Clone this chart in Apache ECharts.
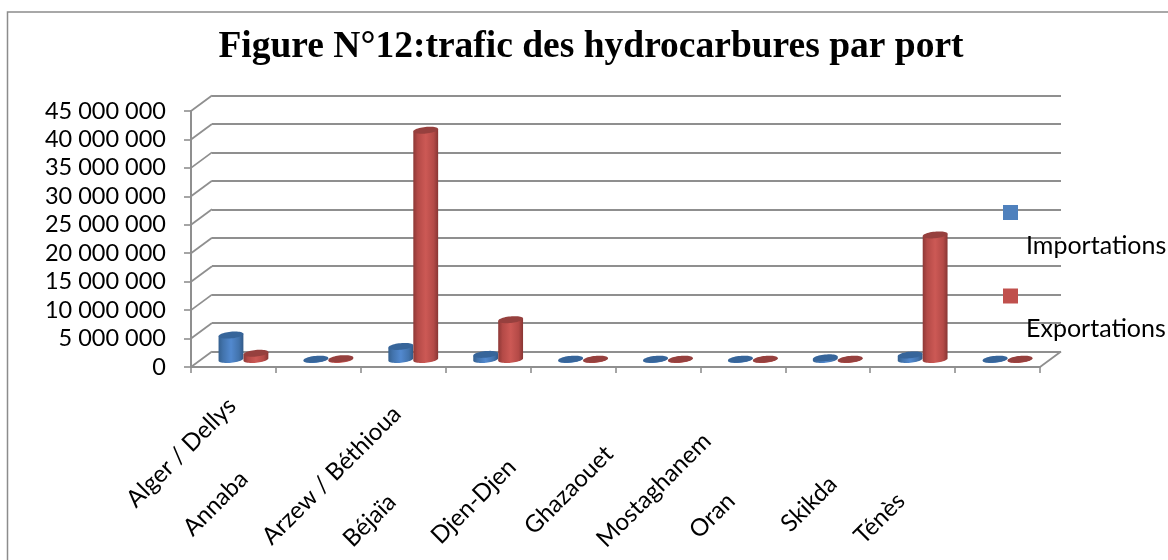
<!DOCTYPE html>
<html><head><meta charset="utf-8">
<style>html,body{margin:0;padding:0;background:#fff}#c{width:1168px;height:560px}</style>
<script src="https://cdn.jsdelivr.net/npm/echarts@6/dist/echarts.min.js"></script>
</head><body><div id="c"></div>
<script>
const categories = ['Alger / Dellys','Annaba','Arzew / Béthioua','Béjaïa','Djen-Djen','Ghazaouet','Mostaghanem','Oran','Skikda','Ténès'];
const importations = [4300000,60000,2300000,900000,60000,60000,60000,300000,800000,60000];
const exportations = [1100000,150000,40300000,7000000,50000,50000,50000,50000,21900000,50000];
const axisTicks = [0,5000000,10000000,15000000,20000000,25000000,30000000,35000000,40000000,45000000];
// label layout: where the right-centre of each rotated label sits, in px
const labelAnchors = [[232,402],[244,475],[397,410],[392,498],[512,463],[609,450],[707,437],[731,497],[833,480],[901,497]];

const FRONT = {left:191,right:128,top:111,bottom:193};
const DEPTH = [21,-15.5];
const MID = [10,-7.5];
const BAND_FRAC = 0.294;
const AXIS_GAP = 10;
const AXIS_Y = 367;

function labelData(){
  const band = (1168-FRONT.left-FRONT.right)/categories.length;
  return categories.map((name,i)=>{
    const tx = FRONT.left+band*(i+.5), ty = AXIS_Y+AXIS_GAP;
    const dx = labelAnchors[i][0]-tx, dy = labelAnchors[i][1]-ty;
    const c = Math.SQRT1_2;
    const along = dx*c - dy*c;     // + = up/right along the text
    const perp = dx*c + dy*c;      // + = below the text
    return {value:name,textStyle:{verticalAlign:'top',lineHeight:2*Math.max(perp,8),padding:[0,Math.max(0,-along),0,0]}};
  });
}
function ellipsePts(cx,cy,rx,ry,tilt,a0,a1,n){
  const pts=[];
  for(let k=0;k<=n;k++){
    const t=a0+(a1-a0)*k/n, x=rx*Math.cos(t), y=ry*Math.sin(t);
    pts.push([cx+x*Math.cos(tilt)-y*Math.sin(tilt), cy+x*Math.sin(tilt)+y*Math.cos(tilt)]);
  }
  return pts;
}
function cylinder(shiftBand,stops,topColor){
  return function(params,api){
    const i=api.value(0), v=api.value(1);
    const band=api.size([1,0])[0], w=band*BAND_FRAC, rx=w/2, ry=3.3, tilt=-0.1;
    const base=api.coord([i,0]), top=api.coord([i,v]);
    const cx=base[0]+MID[0]+shiftBand*w, by=base[1]+MID[1], ty=top[1]+MID[1];
    const lower=ellipsePts(cx,by,rx,ry,tilt,0,Math.PI,24);
    const upper=ellipsePts(cx,ty,rx,ry,tilt,Math.PI,2*Math.PI,24);
    const body=lower.concat([upper[0]]).concat([upper[upper.length-1]]);
    const grad=new echarts.graphic.LinearGradient(cx-rx,0,cx+rx,0,stops,true);
    return {type:'group',children:[
      {type:'polygon',shape:{points:body},style:{fill:grad}},
      {type:'polygon',shape:{points:ellipsePts(cx,ty,rx,ry,tilt,0,2*Math.PI,48)},style:{fill:topColor}}
    ]};
  };
}
function wallRender(params,api){
  const v=api.value(0);
  const p=api.coord([0,v]), half=api.size([1,0])[0]/2, x=p[0]-half;
  const lineStyle={stroke:'#8f8f8f',lineWidth:1.8,fill:null};
  const children=[{type:'line',shape:{x1:x,y1:p[1],x2:x+DEPTH[0],y2:p[1]+DEPTH[1]},style:lineStyle}];
  if(v===0){
    const q=api.coord([categories.length-1,0]);
    children.push({type:'line',shape:{x1:q[0]+half,y1:q[1],x2:q[0]+half+DEPTH[0],y2:q[1]+DEPTH[1]},style:lineStyle});
  }
  return {type:'group',children};
}
const blueStops=[{offset:0,color:'#35608f'},{offset:.18,color:'#4273ac'},{offset:.5,color:'#5289cf'},{offset:.82,color:'#4273ac'},{offset:1,color:'#325a88'}];
const redStops=[{offset:0,color:'#8d3836'},{offset:.18,color:'#b44a47'},{offset:.5,color:'#cc5955'},{offset:.82,color:'#b44a47'},{offset:1,color:'#873533'}];
const gridLine={show:true,lineStyle:{color:'#8f8f8f',width:2}};

const chart=echarts.init(document.getElementById('c'),null,{renderer:'canvas'});
chart.setOption({
  animation:false,backgroundColor:'#fff',
  title:{text:'Figure N°12:trafic des hydrocarbures par port',left:586,top:23,textAlign:'center',
    textStyle:{fontFamily:'Liberation Serif',fontWeight:'bold',fontSize:37.5,color:'#000'}},
  legend:{data:['Importations','Exportations'],orient:'vertical',left:998,top:162,itemWidth:15,itemHeight:15,itemGap:-7.5,
    icon:'rect',formatter:n=>'{a|'+n+'}',
    textStyle:{fontFamily:'Lato',fontSize:25,color:'#000',rich:{a:{fontFamily:'Lato',fontSize:25,color:'#000',lineHeight:17.5,padding:[66,0,0,3]}}}},
  graphic:[{type:'polyline',silent:true,z:-1,shape:{points:[[7.5,560],[7.5,12],[1168,12]]},style:{stroke:'#8c8c8c',lineWidth:1.5,fill:null}}],
  grid:[
    {left:FRONT.left,right:FRONT.right,top:FRONT.top,bottom:FRONT.bottom},
    {left:FRONT.left+DEPTH[0],right:FRONT.right-DEPTH[0],top:FRONT.top+DEPTH[1],bottom:FRONT.bottom-DEPTH[1]}
  ],
  xAxis:[
    {type:'category',gridIndex:0,data:labelData(),
     axisLine:{show:true,lineStyle:{color:'#8f8f8f',width:2}},
     axisTick:{show:true,alignWithLabel:false,length:6,lineStyle:{color:'#8f8f8f',width:1.6}},
     axisLabel:{interval:0,rotate:45,margin:AXIS_GAP,hideOverlap:false,fontFamily:'Lato',fontSize:24,color:'#000'},splitLine:{show:false}},
    {type:'category',gridIndex:1,data:categories,show:false}
  ],
  yAxis:[
    {type:'value',gridIndex:0,min:0,max:45000000,interval:5000000,
     axisLine:{show:true,lineStyle:{color:'#8f8f8f',width:2}},
     axisTick:{show:true,length:7,lineStyle:{color:'#8f8f8f',width:1.6}},
     axisLabel:{margin:25,fontFamily:'Lato',fontSize:23.5,color:'#000',formatter:v=>String(v).replace(/\B(?=(\d{3})+$)/g,' ')},
     splitLine:{show:false}},
    {type:'value',gridIndex:1,min:0,max:45000000,interval:5000000,
     axisLine:{show:false},axisTick:{show:false},axisLabel:{show:false},splitLine:gridLine}
  ],
  series:[
    {type:'custom',name:'walls',xAxisIndex:0,yAxisIndex:0,silent:true,z:1,clip:false,encode:{y:0},data:axisTicks.map(v=>[v]),renderItem:wallRender},
    {type:'custom',name:'Importations',xAxisIndex:0,yAxisIndex:0,z:3,clip:false,itemStyle:{color:'#4f81bd'},encode:{x:0,y:1},
     data:importations.map((v,i)=>[i,v]),renderItem:cylinder(-.5,blueStops,'#37659a')},
    {type:'custom',name:'Exportations',xAxisIndex:0,yAxisIndex:0,z:4,clip:false,itemStyle:{color:'#c0504d'},encode:{x:0,y:1},
     data:exportations.map((v,i)=>[i,v]),renderItem:cylinder(.5,redStops,'#96403e')}
  ]
});
</script></body></html>
